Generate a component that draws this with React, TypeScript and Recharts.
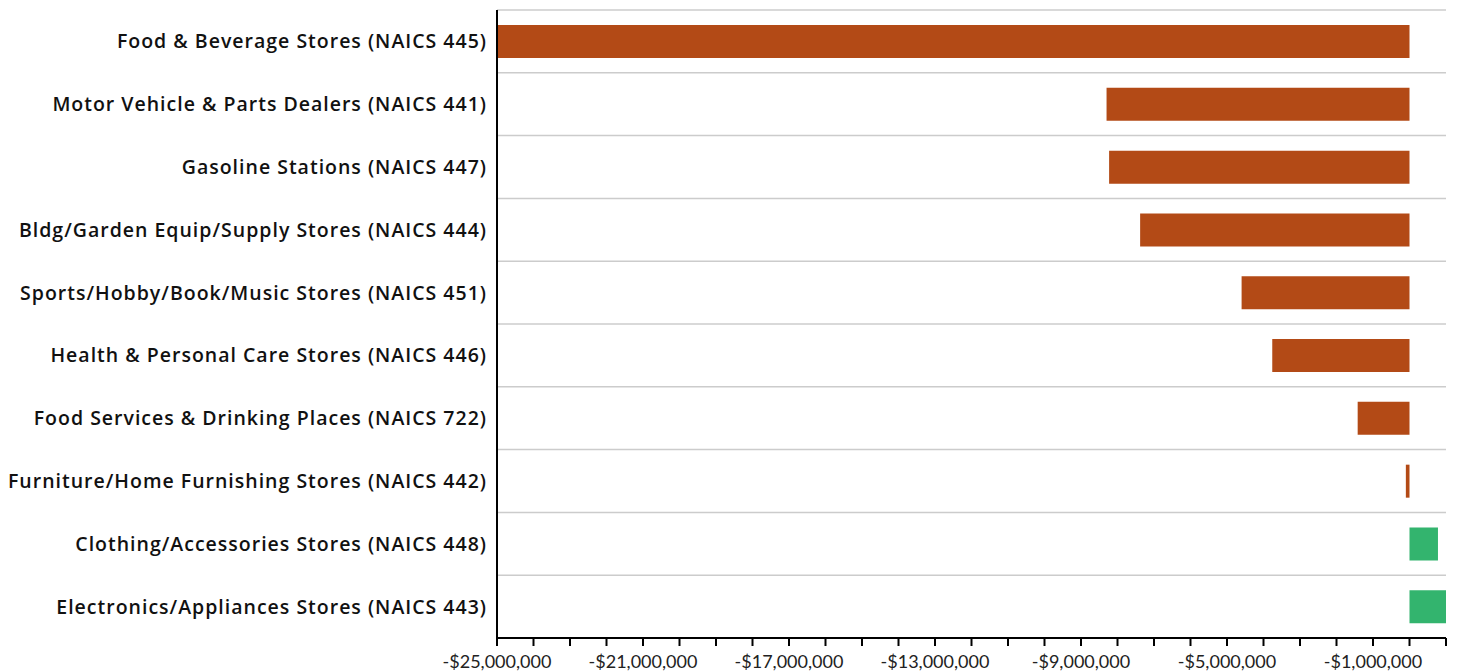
import { Bar, BarChart, CartesianGrid, Cell, XAxis, YAxis } from "recharts";

const categories = [
  "Food & Beverage Stores (NAICS 445)",
  "Motor Vehicle & Parts Dealers (NAICS 441)",
  "Gasoline Stations (NAICS 447)",
  "Bldg/Garden Equip/Supply Stores (NAICS 444)",
  "Sports/Hobby/Book/Music Stores (NAICS 451)",
  "Health & Personal Care Stores (NAICS 446)",
  "Food Services & Drinking Places (NAICS 722)",
  "Furniture/Home Furnishing Stores (NAICS 442)",
  "Clothing/Accessories Stores (NAICS 448)",
  "Electronics/Appliances Stores (NAICS 443)",
];

const changes = [
  -25000000, -8300000, -8230000, -7380000, -4600000, -3760000, -1420000, -100000, 780000, 1000000,
];

// minor ticks every million, labels every fourth
const xTicks = [
  -25000000, -24000000, -23000000, -22000000, -21000000, -20000000, -19000000, -18000000, -17000000,
  -16000000, -15000000, -14000000, -13000000, -12000000, -11000000, -10000000, -9000000, -8000000,
  -7000000, -6000000, -5000000, -4000000, -3000000, -2000000, -1000000, 0, 1000000,
];
const labelledTicks = [-25000000, -21000000, -17000000, -13000000, -9000000, -5000000, -1000000];

const NEG = "#b34a16";
const POS = "#33b46e";

const data = categories.map((name, i) => ({ name, value: changes[i] }));

const fmt = (v: number) =>
  labelledTicks.includes(v) ? `${v < 0 ? "-" : ""}$${Math.abs(v).toLocaleString("en-US")}` : "";

export default function App() {
  return (
    <div style={{ position: "absolute", left: 0, top: 0, fontFamily: "'Open Sans', sans-serif" }}>
      <BarChart
        width={1460}
        height={672}
        data={data}
        layout="vertical"
        margin={{ top: 10, right: 14, left: 0, bottom: 0 }}
        barCategoryGap="24%"
      >
        <CartesianGrid
          vertical={false}
          stroke="#cccccc"
          strokeWidth={1.5}
          horizontalCoordinatesGenerator={({ offset }: any) =>
            categories.map((_, i) => offset.top + (i * offset.height) / categories.length)
          }
        />
        <XAxis
          type="number"
          domain={[-25000000, 1000000]}
          ticks={xTicks}
          interval={0}
          tickFormatter={fmt}
          height={34}
          stroke="#000"
          strokeWidth={2}
          tickSize={8}
          tickMargin={9}
          tick={{ fill: "#222", fontSize: 18, fontFamily: "Lato, sans-serif" }}
        />
        <YAxis
          type="category"
          dataKey="name"
          width={497}
          stroke="#000"
          strokeWidth={2}
          tickLine={false}
          tickSize={0}
          tickMargin={10}
          interval={0}
          tick={{
            fill: "#111",
            fontSize: 19.5,
            fontWeight: 600,
            letterSpacing: 1,
            fontFamily: "'Open Sans', sans-serif",
          }}
        />
        <Bar dataKey="value" isAnimationActive={false}>
          {data.map((d) => (
            <Cell key={d.name} fill={d.value < 0 ? NEG : POS} />
          ))}
        </Bar>
      </BarChart>
    </div>
  );
}
